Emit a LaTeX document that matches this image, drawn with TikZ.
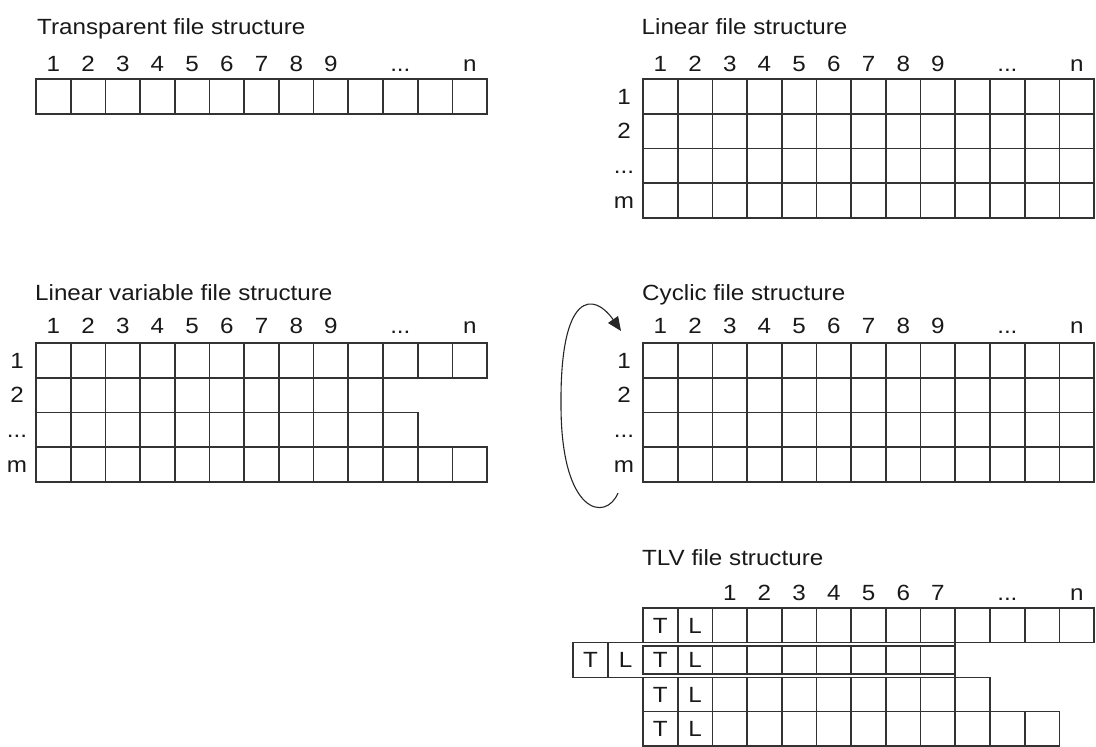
\documentclass[tikz,border=0pt]{standalone}
\usepackage{fontspec}
\setmainfont[FakeStretch=1.1]{Liberation Sans}
\usetikzlibrary{arrows.meta}
\newcommand\cellrow[5]{% name, x0, y0, ncells, height
  \foreach \i in {1,...,#4}
    \draw[gridline] ({#2+(\i-1)*34.7},#3) rectangle ++(34.7,#5);}
\newcommand\dotlbl{...}
\begin{document}
\begin{tikzpicture}[x={(1pt,0)},y={(0,-1pt)},
  gridline/.style={draw=black!80,line width=1.7pt},
  lbl/.style={inner sep=0pt,anchor=base,text=black!90,font=\fontsize{22}{26}\selectfont},
  ttl/.style={inner sep=0pt,anchor=base west,text=black!90,font=\fontsize{22}{26}\selectfont},
  cyc/.style={draw=black!85,line width=1.1pt,-{Triangle[length=14pt,width=12pt]}}]
\useasboundingbox (0,0) rectangle (1096,747);

% ---------- Transparent ----------
\node[ttl] (t1) at (37,34) {Transparent file structure};
\cellrow{tr}{36}{79}{13}{35}
\foreach \i/\t in {1/1,2/2,3/3,4/4,5/5,6/6,7/7,8/8,9/9,11/\dotlbl,13/n}
  \node[lbl] (tc\i) at ({36+(\i-0.5)*34.7},71.5) {\t};

% ---------- Linear ----------
\node[ttl] (t2) at (641.5,34) {Linear file structure};
\foreach \r in {0,1,2,3} {\cellrow{li}{643}{79+\r*34.75}{13}{34.75}}
\foreach \i/\t in {1/1,2/2,3/3,4/4,5/5,6/6,7/7,8/8,9/9,11/\dotlbl,13/n}
  \node[lbl] (lc\i) at ({643+(\i-0.5)*34.7},71.5) {\t};
\foreach \r/\t in {0/1,1/2,2/\dotlbl,3/m}
  \node[lbl] (lr\r) at (624,{79+(\r+0.5)*34.75+7.7}) {\t};

% ---------- Linear variable ----------
\node[ttl] (t3) at (35,300) {Linear variable file structure};
\cellrow{lv}{36}{343}{13}{34.75}
\cellrow{lv}{36}{377.75}{10}{34.75}
\cellrow{lv}{36}{412.5}{11}{34.75}
\cellrow{lv}{36}{447.25}{13}{34.75}
\foreach \i/\t in {1/1,2/2,3/3,4/4,5/5,6/6,7/7,8/8,9/9,11/\dotlbl,13/n}
  \node[lbl] (vc\i) at ({36+(\i-0.5)*34.7},333.5) {\t};
\foreach \r/\t in {0/1,1/2,2/\dotlbl,3/m}
  \node[lbl] (vr\r) at (17,{343+(\r+0.5)*34.75+7.7}) {\t};

% ---------- Cyclic ----------
\node[ttl] (t4) at (642,300) {Cyclic file structure};
\foreach \r in {0,1,2,3} {\cellrow{cy}{643}{343+\r*34.75}{13}{34.75}}
\foreach \i/\t in {1/1,2/2,3/3,4/4,5/5,6/6,7/7,8/8,9/9,11/\dotlbl,13/n}
  \node[lbl] (cc\i) at ({643+(\i-0.5)*34.7},333.5) {\t};
\foreach \r/\t in {0/1,1/2,2/\dotlbl,3/m}
  \node[lbl] (cr\r) at (624,{343+(\r+0.5)*34.75+7.7}) {\t};
\coordinate (cs) at (618,493);
\coordinate (cm) at (561,405);
\coordinate (ce) at (621,331);
\draw[cyc] (cs) .. controls (606,522) and (561,515) .. (cm)
  .. controls (560,290) and (594,292) .. (ce);

% ---------- TLV ----------
\node[ttl] (t5) at (642,565) {TLV file structure};
\foreach \i/\t in {3/1,4/2,5/3,6/4,7/5,8/6,9/7,11/\dotlbl,13/n}
  \node[lbl] (xc\i) at ({643+(\i-0.5)*34.7},600) {\t};
% row 1
\cellrow{x1}{643}{608.3}{13}{34.2}
% row 2 (nested)
\draw[gridline] (573,642.5) rectangle (955,677.5);
\draw[gridline] (608,642.5) -- (608,677.5);
\cellrow{x2}{643}{646}{9}{28}
% row 3
\cellrow{x3}{643}{677.5}{10}{34}
% row 4
\cellrow{x4}{643}{711.5}{12}{34.3}
% T / L letters
\foreach \y/\h/\n in {608.3/34.2/a,646/28/b,677.5/34/c,711.5/34.3/d} {
  \node[lbl] (T\n) at ({643+0.5*34.7},{\y+\h/2+7.7}) {T};
  \node[lbl] (L\n) at ({643+1.5*34.7},{\y+\h/2+7.7}) {L};
}
\node[lbl] (To) at (590.5,{660+7.7}) {T};
\node[lbl] (Lo) at (625.5,{660+7.7}) {L};
\end{tikzpicture}
\end{document}
